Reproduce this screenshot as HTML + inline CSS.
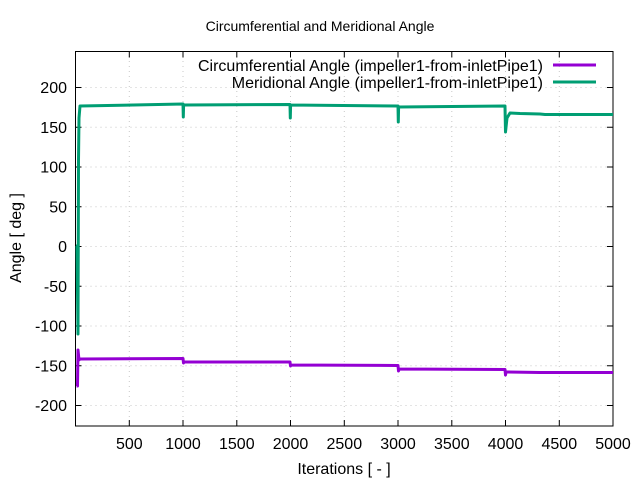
<!DOCTYPE html>
<html><head><style>body{margin:0;background:#fff}</style></head><body>
<svg width="640" height="480" xmlns="http://www.w3.org/2000/svg" font-family="Liberation Sans, sans-serif">
<rect width="640" height="480" fill="#fff"/>
<g stroke="#c8c8c8" stroke-dasharray="1,4" stroke-width="1">
<line x1="129.3" y1="51" x2="129.3" y2="426"/><line x1="183" y1="51" x2="183" y2="426"/><line x1="236.8" y1="51" x2="236.8" y2="426"/><line x1="290.5" y1="51" x2="290.5" y2="426"/><line x1="344.3" y1="51" x2="344.3" y2="426"/><line x1="398" y1="51" x2="398" y2="426"/><line x1="451.8" y1="51" x2="451.8" y2="426"/><line x1="505.5" y1="51" x2="505.5" y2="426"/><line x1="559.3" y1="51" x2="559.3" y2="426"/>
<line x1="75.5" y1="87.5" x2="613" y2="87.5"/><line x1="75.5" y1="127.3" x2="613" y2="127.3"/><line x1="75.5" y1="167" x2="613" y2="167"/><line x1="75.5" y1="206.8" x2="613" y2="206.8"/><line x1="75.5" y1="246.5" x2="613" y2="246.5"/><line x1="75.5" y1="286.3" x2="613" y2="286.3"/><line x1="75.5" y1="326" x2="613" y2="326"/><line x1="75.5" y1="365.8" x2="613" y2="365.8"/><line x1="75.5" y1="405.5" x2="613" y2="405.5"/>
</g>
<g stroke="#000" stroke-width="1">
<rect x="75.5" y="51.5" width="537.5" height="374.5" fill="none"/>
<path d="M129.3 426v-6M183 426v-6M236.8 426v-6M290.5 426v-6M344.3 426v-6M398 426v-6M451.8 426v-6M505.5 426v-6M559.3 426v-6M129.3 51.5v6M183 51.5v6M236.8 51.5v6M290.5 51.5v6M344.3 51.5v6M398 51.5v6M451.8 51.5v6M505.5 51.5v6M559.3 51.5v6"/>
<path d="M75.5 87.5h6M75.5 127.3h6M75.5 167h6M75.5 206.8h6M75.5 246.5h6M75.5 286.3h6M75.5 326h6M75.5 365.8h6M75.5 405.5h6M613 87.5h-6M613 127.3h-6M613 167h-6M613 206.8h-6M613 246.5h-6M613 286.3h-6M613 326h-6M613 365.8h-6M613 405.5h-6"/>
</g>
<g font-size="16" text-anchor="end" fill="#000">
<text x="67" y="93">200</text><text x="67" y="133">150</text><text x="67" y="172.5">100</text><text x="67" y="212.5">50</text><text x="67" y="252">0</text><text x="67" y="292">-50</text><text x="67" y="331.5">-100</text><text x="67" y="371.5">-150</text><text x="67" y="411">-200</text>
</g>
<g font-size="16" text-anchor="middle" fill="#000">
<text x="129.3" y="449">500</text><text x="183" y="449">1000</text><text x="236.8" y="449">1500</text><text x="290.5" y="449">2000</text><text x="344.3" y="449">2500</text><text x="398" y="449">3000</text><text x="451.8" y="449">3500</text><text x="505.5" y="449">4000</text><text x="559.3" y="449">4500</text><text x="613" y="449">5000</text>
<text x="344" y="474">Iterations [ - ]</text>
<text x="320" y="31" font-size="14">Circumferential and Meridional Angle</text>
<text transform="translate(21,238) rotate(-90)">Angle [ deg ]</text>
</g>
<g font-size="16" text-anchor="end" fill="#000">
<text x="543" y="71">Circumferential Angle (impeller1-from-inletPipe1)</text>
<text x="543" y="88">Meridional Angle (impeller1-from-inletPipe1)</text>
</g>
<line x1="553" y1="65" x2="596" y2="65" stroke="#9400d3" stroke-width="3"/>
<line x1="553" y1="82" x2="596" y2="82" stroke="#009e73" stroke-width="3"/>
<polyline fill="none" stroke="#9400d3" stroke-width="3" stroke-linejoin="round" points="76.5,386 77.5,386 78,350 79,360 80,359 183,358.5 183.5,363 184,362 290,362 290.5,366 291,365 398,365.5 398.5,371 399,369 505,369.5 505.5,375 506,372 540,372.5 613,372.5"/>
<polyline fill="none" stroke="#009e73" stroke-width="3" stroke-linejoin="round" points="76,246 77,246 78,334 78.5,160 79,118 80,106 183,104 183.3,117 183.6,105 290,104.5 290.3,118 290.6,105 398,106 398.3,122 398.6,107 505,106 505.5,132 507,118 510,113 520,113.5 540,114 545,114.5 613,114.5"/>
</svg>
</body></html>
